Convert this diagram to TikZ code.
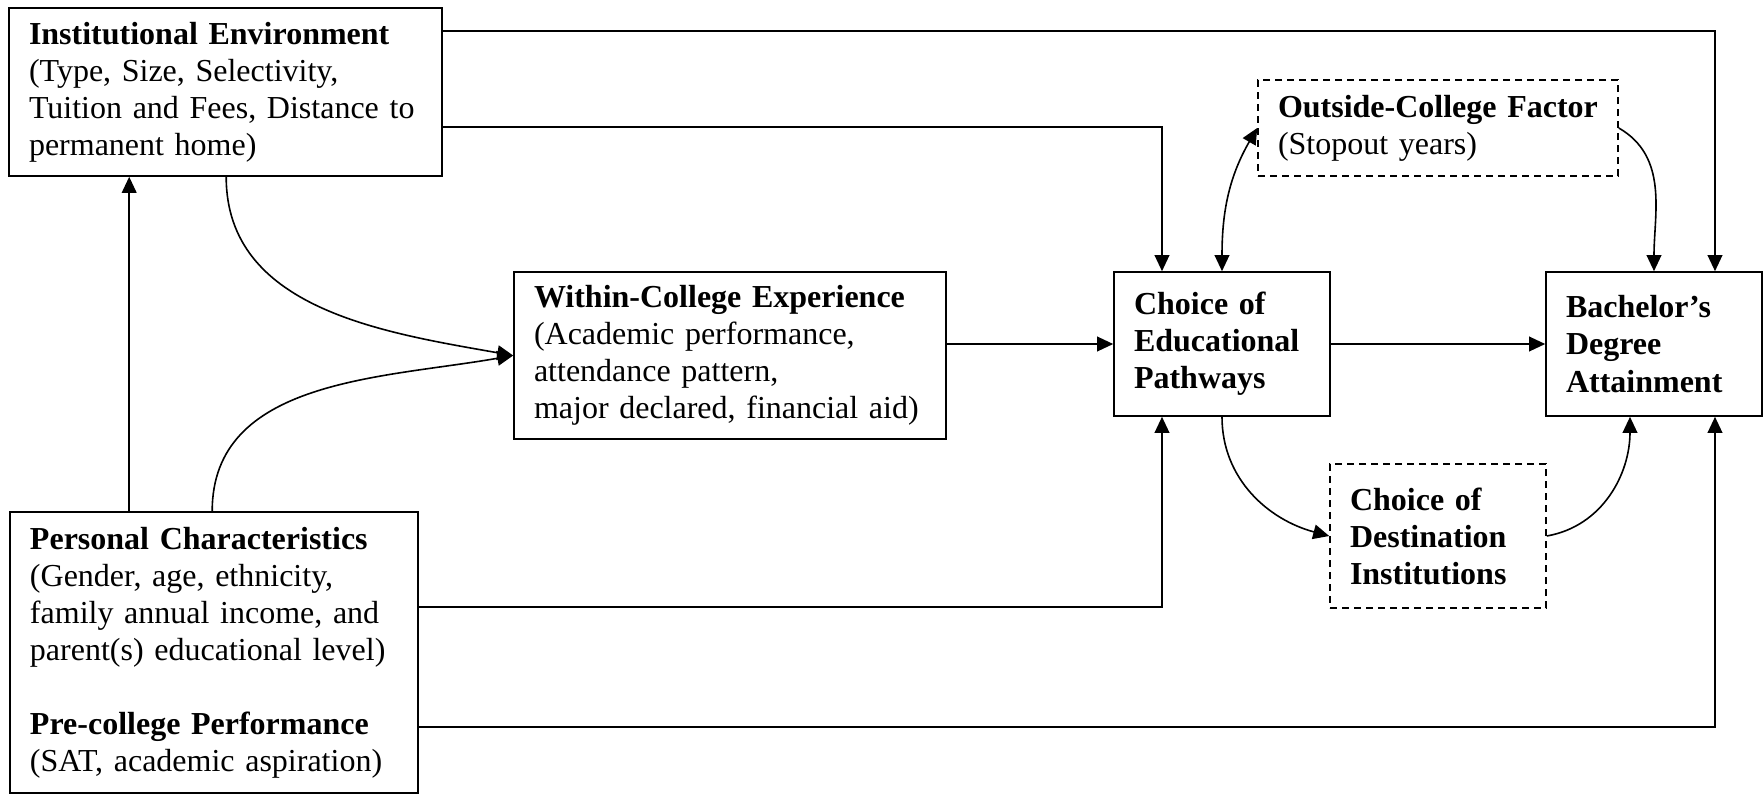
\documentclass[tikz,border=0pt]{standalone}
\usepackage{fontspec}
\setmainfont{Liberation Serif}
\usetikzlibrary{arrows.meta,calc}
\begin{document}
\begin{tikzpicture}[x=0.375pt,y=-0.375pt,
  box/.style={draw, line width=0.6pt, rectangle, inner xsep=7.5pt, inner ysep=0pt, align=left, font=\fontsize{12}{13.9}\selectfont},
  dbox/.style={box, dash pattern=on 2.6pt off 1.9pt},
  arr/.style={line width=0.6pt, -{Triangle[length=6pt,width=5.5pt]}},
  arrb/.style={line width=0.6pt, {Triangle[length=6pt,width=5.5pt]}-{Triangle[length=6pt,width=5.5pt]}}]
\useasboundingbox (0,0) rectangle (1763,797);

\node[box, text width=147.375pt, minimum height=63pt] (inst) at (225.5,92)
  {\textbf{Institutional Environment}\\(Type, Size, Selectivity,\\Tuition and Fees, Distance to\\permanent home)};
\node[box, text width=138pt, minimum height=105.375pt] (pers) at (214,652.5)
  {\textbf{Personal Characteristics}\\(Gender, age, ethnicity,\\family annual income, and\\parent(s) educational level)\\[13.9pt]\textbf{Pre-college Performance}\\(SAT, academic aspiration)};
\node[box, text width=147pt, minimum height=62.625pt] (within) at (730,355.5)
  {\textbf{Within-College Experience}\\(Academic performance,\\attendance pattern,\\major declared, financial aid)};
\node[box, text width=66pt, minimum height=54pt] (choice) at (1222,344)
  {\textbf{Choice of}\\\textbf{Educational}\\\textbf{Pathways}};
\node[box, text width=66pt, minimum height=54pt] (bach) at (1654,344)
  {\textbf{Bachelor’s}\\\textbf{Degree}\\\textbf{Attainment}};
\node[dbox, text width=120pt, minimum height=36pt] (outside) at (1438,128)
  {\mbox{\textbf{Outside-College Factor}}\\(Stopout years)};
\node[dbox, text width=66pt, minimum height=54pt] (dest) at (1438,536)
  {\textbf{Choice of}\\\textbf{Destination}\\\textbf{Institutions}};

\coordinate (pup) at ($(pers.north west)+(120,0)$);

% straight connectors
\draw[arr] ($(inst.north east)+(0,24)$) -| ($(bach.north)+(61,0)$);
\draw[arr] ($(inst.north east)+(0,120)$) -| ($(choice.north)+(-60,0)$);
\draw[arr] (pup) -- (pup |- inst.south);
\draw[arr] (within.east |- choice.west) -- (choice.west);
\draw[arr] (choice.east) -- (bach.west);
\draw[arr] ($(pers.north east)+(0,96)$) -| ($(choice.south)+(-60,0)$);
\draw[arr] ($(pers.north east)+(0,216)$) -| ($(bach.south)+(61,0)$);

% curved connectors
\draw[arr] ($(inst.south west)+(218,0)$) to[out=-90,in=170] (within.west);
\draw[arr] ($(pers.north west)+(203,0)$) to[out=90,in=190] (within.west);
\draw[arrb] (choice.north) to[out=90,in=240] (outside.west);
\draw[arr] (outside.east) to[out=-30,in=90] (bach.north);
\draw[arr] (choice.south) to[out=-90,in=165] (dest.west);
\draw[arr] (dest.east) to[out=10,in=-90] ($(bach.south)+(-24,0)$);
\end{tikzpicture}
\end{document}
